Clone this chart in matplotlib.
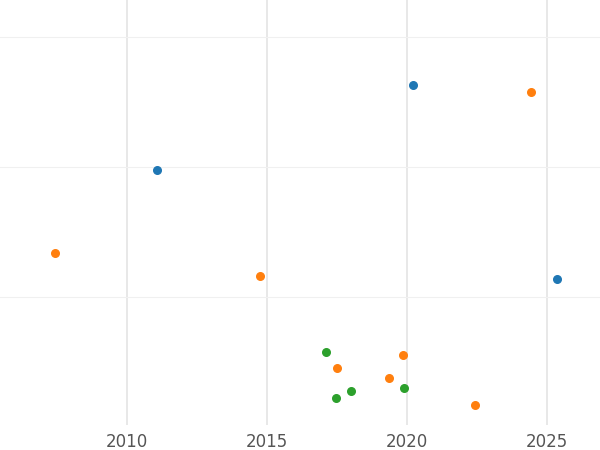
import matplotlib
matplotlib.use("Agg")
import matplotlib.pyplot as plt

blue_x = [2020.21, 2011.07, 2025.36]
blue_y = [2.63, 1.977, 1.138]
orange_x = [2007.43, 2014.75, 2024.43, 2017.5, 2019.86, 2019.36, 2022.43]
orange_y = [1.338, 1.162, 2.577, 0.454, 0.554, 0.377, 0.169]
green_x = [2017.11, 2017.46, 2018.0, 2019.89]
green_y = [0.577, 0.223, 0.277, 0.3]
xticks = [2010, 2015, 2020, 2025]

fig = plt.figure(figsize=(6, 4.5), dpi=100)
ax = fig.add_axes([0, 0.0556, 1, 0.9444])
ax.set_xlim(2005.46, 2026.89)
ax.set_ylim(0.015, 3.285)
for x in xticks:
    ax.axvline(x, color="#e6e6e6", lw=1.3, zorder=0)
for y in [1, 2, 3]:
    ax.axhline(y, color="#f0f0f0", lw=0.8, zorder=0)
ax.scatter(blue_x, blue_y, s=30, color="#1f77b4", zorder=3)
ax.scatter(orange_x, orange_y, s=30, color="#ff7f0e", zorder=3)
ax.scatter(green_x, green_y, s=30, color="#2ca02c", zorder=3)
ax.set_xticks(xticks)
ax.set_xticklabels([str(x) for x in xticks])
ax.set_yticks([])
ax.tick_params(axis="x", length=0, labelsize=12, labelcolor="#555555", pad=6)
for s in ax.spines.values():
    s.set_visible(False)
fig.savefig("out.png", dpi=100)
